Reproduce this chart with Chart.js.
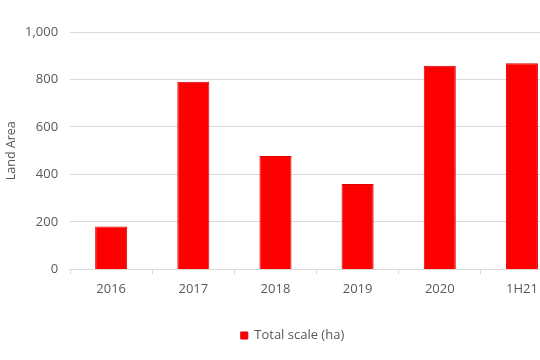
<!DOCTYPE html>
<html><head><meta charset="utf-8">
<script src="https://cdn.jsdelivr.net/npm/chart.js@4/dist/chart.umd.min.js"></script>
<style>html,body{margin:0;padding:0;overflow:hidden;background:#fff;width:540px;height:360px}#wrap{width:584px;height:360px;position:relative}</style>
</head><body><div id="wrap"><canvas id="c"></canvas></div>
<script>
const categories = ['2016','2017','2018','2019','2020','1H21'];
const totalScale = [181, 790, 478, 360, 858, 868];
const yTicks = [0, 200, 400, 600, 800, 1000];
const seriesName = 'Total scale (ha)';
const axisTitle = 'Land Area';

const FONT = "'Open Sans', 'Liberation Sans', sans-serif";
const legendShift = {
  id: 'legendShift',
  afterLayout(chart) {
    if (chart.legend) { chart.legend.left += 9; chart.legend.right += 9; }
  }
};
new Chart(document.getElementById('c'), {
  type: 'bar',
  data: {
    labels: categories,
    datasets: [{
      label: seriesName,
      data: totalScale,
      backgroundColor: '#ff0000',
      borderColor: '#d80000',
      borderWidth: 1,
      categoryPercentage: 1,
      barPercentage: 0.39
    }]
  },
  plugins: [legendShift],
  options: {
    responsive: true,
    maintainAspectRatio: false,
    animation: false,
    layout: { padding: { top: 32, right: 21, left: 4, bottom: 8 } },
    plugins: {
      legend: {
        position: 'bottom',
        labels: { boxWidth: 7, boxHeight: 7, color: '#595959', font: { family: FONT, size: 13 }, padding: 25 }
      },
      tooltip: { enabled: false }
    },
    scales: {
      x: {
        grid: { offset: true, drawOnChartArea: false, drawTicks: true, tickLength: 5, color: '#d9d9d9' },
        border: { color: '#d9d9d9' },
        ticks: { color: '#595959', font: { family: FONT, size: 13 }, padding: 7 }
      },
      y: {
        min: 0, max: 1000,
        afterBuildTicks: (s) => { s.ticks = yTicks.map(v => ({ value: v })); },
        grid: { color: '#d9d9d9', drawTicks: false },
        border: { display: false },
        ticks: { color: '#595959', font: { family: FONT, size: 13 }, padding: 12,
          callback: (v) => Number(v).toLocaleString('en-US') },
        title: { display: true, text: axisTitle, color: '#595959', font: { family: FONT, size: 12.5 }, padding: { top: 0, bottom: -6 } }
      }
    }
  }
});
</script></body></html>
